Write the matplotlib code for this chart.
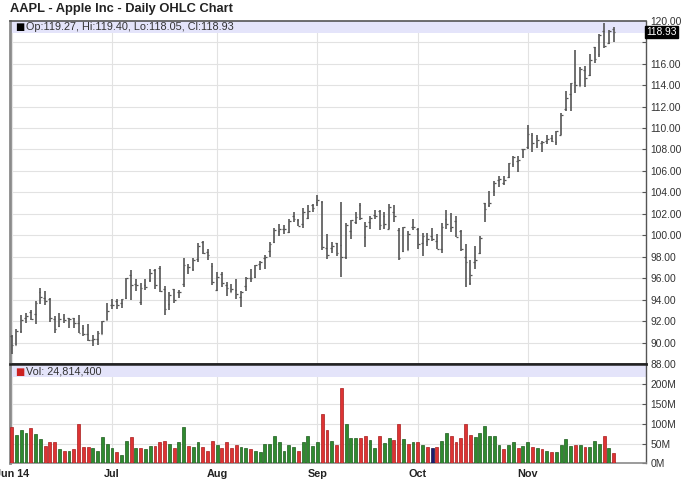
import numpy as np
import pandas as pd
import matplotlib
matplotlib.use("Agg")
import matplotlib.pyplot as plt
from matplotlib.patches import Rectangle

plt.rcParams['font.family'] = ['Liberation Sans', 'DejaVu Sans']

# AAPL daily bars, 2 Jun 2014 - 28 Nov 2014
holidays = ['2014-07-04', '2014-09-01', '2014-11-27']
dates = pd.bdate_range('2014-06-02', '2014-11-28')
dates = dates[~dates.isin(pd.to_datetime(holidays))]

prev_close = 90.43

opens = [90.57, 89.78, 91.06, 92.31, 92.84, 92.70, 94.73, 94.13, 94.04, 92.20,
         91.51, 92.31, 92.27, 92.29, 91.85, 91.32, 90.75, 90.21, 90.37, 90.82, 92.10,
         93.52, 93.87, 93.67, 94.14, 96.27, 95.44, 93.76, 95.36, 95.86, 96.80, 96.97,
         95.03, 93.62, 94.99, 94.68, 95.42, 97.04, 96.85, 97.82, 99.33, 98.44, 97.16,
         94.90, 96.37, 95.36, 94.75, 94.93, 94.26, 95.27, 96.04, 96.15, 97.33, 97.90,
         98.49, 99.41, 100.44, 100.57, 100.29, 101.79, 101.42, 101.02, 101.59, 102.86,
         103.06, 103.10, 98.85, 98.80, 99.30, 99.08, 98.01, 100.41, 101.21, 102.81, 99.80,
         101.27, 101.93, 102.29, 101.80, 100.60, 102.16, 100.51, 98.53, 98.65, 100.81,
         100.59, 99.27, 99.44, 99.95, 99.43, 98.76, 101.54, 100.69, 101.33, 100.39, 97.97,
         95.55, 97.50, 98.32, 103.02, 102.84, 104.08, 105.18, 104.85, 105.40, 106.65,
         106.96, 108.01,
         108.22, 109.36, 109.10, 108.60, 108.75, 109.02, 108.70, 109.38, 111.80, 113.15,
         114.27, 113.94, 115.44, 114.91, 117.51, 116.85, 119.07, 117.94, 119.27]
highs = [90.69, 91.25, 92.56, 92.77, 93.04, 93.88, 95.05, 94.76, 94.12, 92.44,
         92.75, 92.70, 92.29, 92.30, 92.55, 91.62, 91.74, 90.70, 91.05, 92.00, 93.73,
         94.07, 94.06, 94.10, 95.99, 96.80, 95.95, 95.55, 95.89, 96.89, 96.85, 97.10,
         95.28, 94.74, 95.00, 94.89, 97.88, 97.32, 97.84, 99.24, 99.44, 98.70, 97.45,
         96.62, 96.58, 95.68, 95.48, 95.95, 94.82, 96.08, 96.88, 97.24, 97.57, 98.19,
         99.37, 100.68, 101.09, 100.94, 101.47, 102.17, 101.50, 102.57, 102.78, 102.90,
         103.74, 103.20, 100.09, 99.39, 99.31, 103.08, 101.11, 101.44, 102.19, 103.05, 101.26,
         101.80, 102.35, 102.35, 102.14, 102.94, 102.85, 100.71, 100.75, 100.44, 101.54,
         100.69, 100.22, 100.21, 100.65, 100.12, 101.11, 102.38, 102.03, 101.78, 100.52, 99.15,
         97.72, 99.00, 99.96, 103.02, 104.11, 105.05, 105.49, 105.48, 106.74, 107.37,
         107.35, 108.04,
         110.30, 109.49, 109.30, 108.79, 109.32, 109.33, 109.75, 111.43, 113.45, 114.19,
         117.28, 115.69, 115.74, 116.86, 117.57, 118.77, 119.75, 119.10, 119.40]
lows = [88.93, 89.75, 90.87, 91.80, 92.07, 91.75, 93.57, 93.47, 91.90, 90.88,
        91.45, 91.80, 91.35, 91.34, 90.90, 90.60, 90.19, 89.65, 89.80, 90.77, 92.09,
        93.13, 93.09, 93.20, 94.10, 93.92, 94.76, 93.52, 94.86, 95.65, 95.03, 94.74,
        92.57, 93.02, 93.72, 94.12, 95.17, 96.42, 96.64, 97.55, 98.25, 97.67, 95.33,
        94.81, 95.17, 94.36, 94.71, 94.10, 93.28, 94.84, 95.61, 96.04, 96.80, 96.86,
        97.98, 99.32, 99.95, 100.11, 100.19, 101.28, 100.86, 100.70, 101.56, 102.20,
        102.72, 98.58, 97.79, 98.31, 98.05, 96.14, 97.76, 99.62, 101.08, 101.44, 98.89,
        100.59, 101.56, 100.50, 100.58, 100.54, 101.20, 97.72, 98.40, 98.63, 100.53,
        98.70, 98.04, 99.04, 99.42, 98.73, 98.31, 100.61, 100.30, 99.81, 98.57, 95.18,
        95.41, 96.81, 98.22, 101.27, 102.60, 103.63, 104.53, 104.70, 105.35, 106.36,
        105.90, 107.21,
        108.01, 107.72, 108.13, 107.80, 108.55, 108.67, 108.40, 109.37, 111.60, 111.56,
        113.30, 113.89, 113.80, 114.85, 116.03, 116.62, 117.45, 117.83, 118.05]
closes = [89.81, 91.08, 92.12, 92.48, 92.22, 93.70, 94.25, 93.86, 92.29, 91.28,
          92.20, 92.08, 92.18, 91.86, 90.91, 90.83, 90.28, 90.36, 90.90, 91.98, 92.93,
          93.52, 93.48, 94.03, 95.97, 95.35, 95.39, 95.04, 95.22, 96.45, 95.32, 94.78,
          93.09, 94.43, 93.94, 94.72, 97.19, 97.03, 97.67, 99.02, 98.38, 98.15, 95.60,
          96.13, 95.59, 95.12, 94.96, 94.48, 94.74, 95.99, 95.97, 97.24, 97.50, 97.98,
          99.16, 100.53, 100.57, 100.58, 101.32, 101.54, 100.89, 102.13, 102.25, 102.50,
          103.30, 98.94, 98.12, 98.97, 98.36, 97.99, 101.00, 101.43, 101.66, 101.63, 100.86,
          101.58, 101.79, 100.96, 101.06, 102.64, 101.75, 97.87, 100.75, 100.11, 100.75,
          99.18, 99.90, 99.62, 99.62, 98.75, 100.80, 101.02, 100.73, 99.81, 98.75, 97.54,
          96.26, 97.67, 99.76, 102.47, 102.99, 104.83, 105.22, 105.11, 106.74, 107.34,
          106.98, 108.00,
          109.40, 108.60, 108.86, 108.70, 109.01, 108.83, 109.70, 111.25, 112.82, 114.18,
          113.99, 115.47, 114.67, 116.31, 116.47, 118.63, 117.60, 119.00, 118.93]
# volume in millions of shares
volumes = [92, 72, 84, 76, 89, 74, 62, 45, 55, 55,
           35, 30, 32, 35, 100, 42, 41, 38, 32, 66, 49,
           38, 28, 22, 57, 66, 38, 40, 36, 43, 45, 53,
           57, 49, 40, 55, 93, 45, 42, 55, 42, 32, 57,
           47, 40, 55, 38, 47, 42, 38, 35, 32, 28, 49,
           49, 70, 53, 32, 46, 42, 32, 53, 68, 45,
           53, 125, 85, 57, 47, 190, 100, 63, 65, 63, 68,
           59, 38, 70, 51, 63, 59, 100, 62, 49, 55,
           53, 47, 42, 38, 42, 57, 77, 68, 53, 63, 100,
           72, 66, 77, 95, 68, 70, 47, 35, 47, 53,
           40, 45,
           53, 42, 38, 35, 32, 28, 28, 47, 62, 45,
           47, 46, 42, 42, 57, 49, 70, 40, 24.8144]

month_labels = ['Jun 14', 'Jul', 'Aug', 'Sep', 'Oct', 'Nov']
price_ticks = np.arange(88, 121, 2)
vol_ticks = [0, 50, 100, 150, 200]

opens = np.array(opens); highs = np.array(highs)
lows = np.array(lows); closes = np.array(closes)
volumes = np.array(volumes)
x = np.arange(len(dates))

prev = np.concatenate([[prev_close], closes[:-1]])
vol_colors = np.where(closes > prev, '#2f8a2f', np.where(closes < prev, '#dd3333', '#1c1c70'))
vol_edges = np.where(closes > prev, '#1d5a1d', np.where(closes < prev, '#a81c1c', '#101040'))

months = pd.Series(dates.month)
month_pos = x[(months != months.shift()).values]

W, H = 688, 503
fig = plt.figure(figsize=(W / 100, H / 100), dpi=100)
left, right = 10, 646
p_top, p_bot, v_bot = 20.7, 364, 463.3
ax = fig.add_axes([left / W, 1 - p_bot / H, (right - left) / W, (p_bot - p_top) / H])
axv = fig.add_axes([left / W, 1 - v_bot / H, (right - left) / W, (v_bot - p_bot) / H], sharex=ax)

spacing = (613.7 - 11.7) / (len(x) - 1)
ax.set_xlim((left - 11.7) / spacing, (right - 11.7) / spacing)
ax.set_ylim(88, 120)
axv.set_ylim(0, (v_bot - p_bot) / 0.395)

# OHLC bars
bar_col = '#555555'
ax.vlines(x, lows, highs, color=bar_col, lw=1.2, zorder=3)
ax.hlines(opens, x - 0.36, x, color=bar_col, lw=0.9, zorder=3)
ax.hlines(closes, x, x + 0.36, color=bar_col, lw=0.9, zorder=3)

# volume bars
axv.bar(x, volumes, width=0.6, color=vol_colors, edgecolor=vol_edges, lw=0.5, zorder=3)

for a in (ax, axv):
    a.set_axisbelow(True)
    a.grid(True, color='#e2e2e2', lw=0.8)
    a.set_xticks(month_pos)
    a.yaxis.tick_right()
    a.tick_params(axis='y', direction='in', length=3, pad=3, labelsize=7.4,
                  labelcolor='#333333', color='#555555', width=0.8)
    a.tick_params(axis='x', length=0)
    a.spines['left'].set_color('#8a8a8a')
    a.spines['left'].set_linewidth(2)
    a.spines['right'].set_color('#555555')
    a.spines['right'].set_linewidth(1)

ax.set_yticks(price_ticks)
ax.set_yticklabels(['' if v == 118 else f'{v:.2f}' for v in price_ticks])
ax.tick_params(axis='x', labelbottom=False)
ax.spines['top'].set_color('#555555')
ax.spines['top'].set_linewidth(1.2)
ax.spines['bottom'].set_color('#222222')
ax.spines['bottom'].set_linewidth(1.8)

axv.set_yticks(vol_ticks)
axv.set_yticklabels([f'{v}M' for v in vol_ticks])
axv.set_xticklabels(month_labels, fontsize=7.8, fontweight='bold', color='#222222')
axv.tick_params(axis='x', pad=4)
axv.spines['top'].set_color('#222222')
axv.spines['top'].set_linewidth(1.8)
axv.spines['bottom'].set_color('#8a8a8a')
axv.spines['bottom'].set_linewidth(1.2)

# header bands
band = '#e4e4fa'
ph = p_bot - p_top
ax.add_patch(Rectangle((0, 1 - 12 / ph), 1, 12 / ph, transform=ax.transAxes,
                       facecolor=band, edgecolor='none', zorder=1))
vh = v_bot - p_bot
axv.add_patch(Rectangle((0, 1 - 13 / vh), 1, 13 / vh, transform=axv.transAxes,
                        facecolor=band, edgecolor='none', zorder=1))

fig.text(15 / W, 1 - 27 / H, '■', fontsize=7, color='black', va='center',
         family=['DejaVu Sans'])
fig.text(26 / W, 1 - 27 / H,
         f'Op:{opens[-1]:.2f}, Hi:{highs[-1]:.2f}, Lo:{lows[-1]:.2f}, Cl:{closes[-1]:.2f}',
         fontsize=7.8, color='#333333', va='center')
fig.text(15 / W, 1 - 372 / H, '■', fontsize=7, color='#cc2222', va='center',
         family=['DejaVu Sans'])
fig.text(26 / W, 1 - 372 / H, f'Vol: {int(round(volumes[-1] * 1e6)):,}',
         fontsize=7.8, color='#333333', va='center')

# last price marker
ax.text(1.0, closes[-1], f'{closes[-1]:.2f}', transform=ax.get_yaxis_transform(),
        fontsize=7.4, color='white', va='center', ha='left',
        bbox=dict(boxstyle='square,pad=0.12', facecolor='black', edgecolor='black'),
        clip_on=False, zorder=5)

fig.text(10 / W, 1 - 9 / H, 'AAPL - Apple Inc - Daily OHLC Chart', fontsize=9.3,
         fontweight='bold', color='#222222', va='center')

fig.savefig('out.png', dpi=100)
